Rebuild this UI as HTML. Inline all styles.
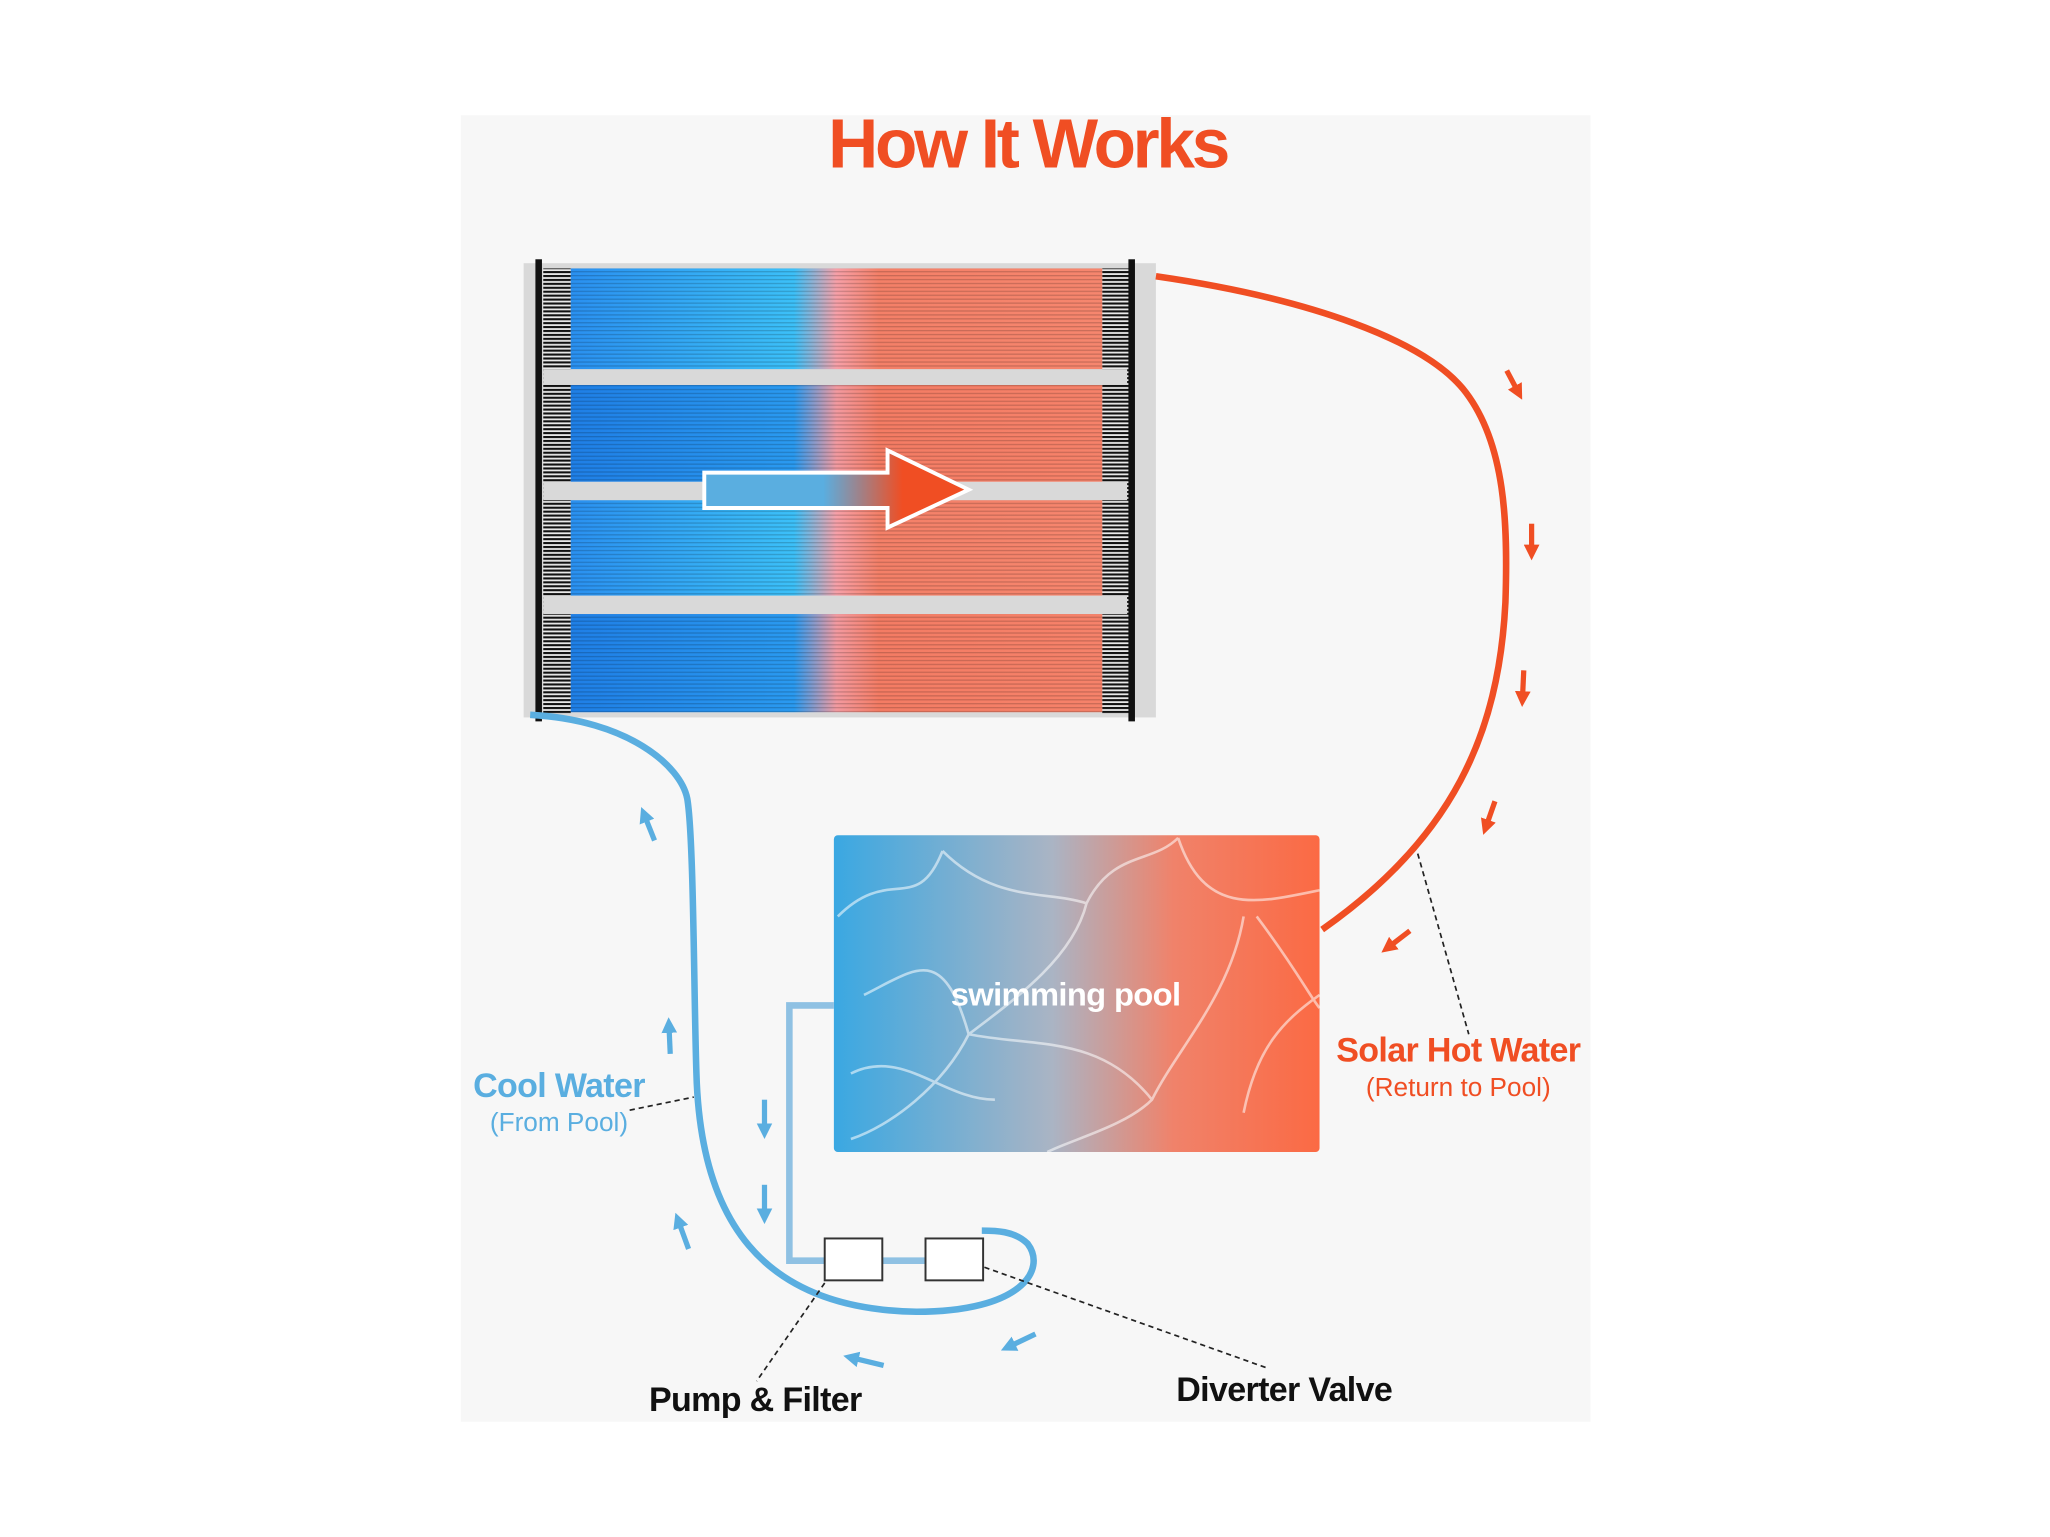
<!DOCTYPE html>
<html><head><meta charset="utf-8"><style>html,body{margin:0;padding:0;background:#fff}svg{display:block}</style></head>
<body>
<svg width="2050" height="1537" viewBox="0 0 1566 1174" xmlns="http://www.w3.org/2000/svg" font-family="Liberation Sans, sans-serif">
<defs>
<linearGradient id="band" x1="0" x2="1" y1="0" y2="0">
<stop offset="0" stop-color="#1f7fe6"/><stop offset="0.42" stop-color="#2a9af0"/><stop offset="0.5" stop-color="#f39aa0"/><stop offset="0.58" stop-color="#f47c64"/><stop offset="1" stop-color="#f6826a"/></linearGradient>
<linearGradient id="band2" x1="0" x2="1" y1="0" y2="0">
<stop offset="0" stop-color="#2a90f0"/><stop offset="0.42" stop-color="#3cc0f8"/><stop offset="0.5" stop-color="#f7a0a8"/><stop offset="0.58" stop-color="#f48068"/><stop offset="1" stop-color="#f6866e"/></linearGradient>
<pattern id="lines" width="4" height="3" patternUnits="userSpaceOnUse"><rect width="4" height="1" fill="#000" opacity="0.18"/></pattern>
<pattern id="comb" width="21" height="3" patternUnits="userSpaceOnUse"><rect width="21" height="3" fill="#e8e8e8"/><rect width="21" height="1.6" fill="#111"/></pattern>
<linearGradient id="arr" x1="0" x2="1"><stop offset="0" stop-color="#5aaee0"/><stop offset="0.45" stop-color="#5aaee0"/><stop offset="0.75" stop-color="#f04e23"/><stop offset="1" stop-color="#f04e23"/></linearGradient>
<linearGradient id="pool" x1="0" x2="1"><stop offset="0" stop-color="#3aa8e2"/><stop offset="0.45" stop-color="#aab4c4"/><stop offset="0.7" stop-color="#f0826a"/><stop offset="1" stop-color="#fb6a44"/></linearGradient>
<marker id="ra" viewBox="0 0 10 10" refX="5" refY="5" markerWidth="3" markerHeight="3" orient="auto"><path d="M0,0 L10,5 L0,10z" fill="#f04e23"/></marker>
<marker id="ba" viewBox="0 0 10 10" refX="5" refY="5" markerWidth="3" markerHeight="3" orient="auto"><path d="M0,0 L10,5 L0,10z" fill="#5aaee0"/></marker>
</defs>
<rect x="352" y="88" width="863" height="998" fill="#f7f7f7"/>
<text x="785" y="128" text-anchor="middle" font-size="53" font-weight="bold" fill="#f04e23" letter-spacing="-2.5">How It Works</text>
<!-- panel -->
<rect x="400" y="201" width="483" height="347" fill="#d9d9d9"/>
<rect x="415" y="205" width="21" height="340" fill="url(#comb)"/>
<rect x="842" y="205" width="23" height="340" fill="url(#comb)"/>
<g>
<rect x="436" y="205" width="406" height="77" fill="url(#band2)"/>
<rect x="436" y="294" width="406" height="74" fill="url(#band)"/>
<rect x="436" y="382" width="406" height="73" fill="url(#band2)"/>
<rect x="436" y="469" width="406" height="75" fill="url(#band)"/>
<rect x="436" y="205" width="406" height="77" fill="url(#lines)"/>
<rect x="436" y="294" width="406" height="74" fill="url(#lines)"/>
<rect x="436" y="382" width="406" height="73" fill="url(#lines)"/>
<rect x="436" y="469" width="406" height="75" fill="url(#lines)"/>
</g>
<rect x="415" y="282" width="446" height="12" fill="#d9d9d9"/>
<rect x="415" y="368" width="446" height="14" fill="#d9d9d9"/>
<rect x="415" y="455" width="446" height="14" fill="#d9d9d9"/>
<rect x="409" y="198" width="5" height="353" fill="#111"/>
<rect x="862" y="198" width="5" height="353" fill="#111"/>
<path d="M538,361 L678,361 L678,344 L740,374 L678,403 L678,388 L538,388Z" fill="url(#arr)" stroke="#fff" stroke-width="3"/>
<!-- red pipe -->
<path d="M883,211 C1000,228 1090,260 1120,300 C1150,340 1152,400 1150,460 C1145,560 1110,640 1010,710" fill="none" stroke="#f04e23" stroke-width="5"/>
<g stroke="#f04e23" stroke-width="4" fill="none">
<path d="M1151,283 L1160,300" marker-end="url(#ra)"/>
<path d="M1170,400 L1170,422" marker-end="url(#ra)"/>
<path d="M1164,512 L1163,534" marker-end="url(#ra)"/>
<path d="M1142,612 L1135,632" marker-end="url(#ra)"/>
<path d="M1077,711 L1060,724" marker-end="url(#ra)"/>
</g>
<!-- pool -->
<rect x="637" y="638" width="371" height="242" rx="3" fill="url(#pool)"/>
<g fill="none" stroke="#fff" stroke-opacity="0.55" stroke-width="2">
<path d="M640,700 C680,660 700,700 720,650 M720,650 C760,690 800,680 830,690 C850,650 880,660 900,640 M830,690 C820,730 780,760 740,790 C720,830 680,860 650,870 M900,640 C920,700 960,690 1008,680 M950,700 C940,760 900,800 880,840 C860,860 820,870 800,880 M740,790 C790,800 840,790 880,840 M660,760 C700,740 720,720 740,790 M1008,760 C980,780 960,800 950,850 M650,820 C690,800 720,840 760,840 M960,700 C990,740 1000,760 1008,770"/>
</g>
<text x="814" y="768" text-anchor="middle" font-size="25" font-weight="bold" fill="#fff" letter-spacing="-0.5">swimming pool</text>
<!-- pool to pump -->
<path d="M637,768 L603,768 L603,963 L750,963" fill="none" stroke="#8fc1e3" stroke-width="5"/>
<!-- blue pipe -->
<path d="M405,546 C480,550 520,585 525,610 C530,640 530,760 532,820 C535,930 580,1000 700,1002 C780,1002 800,970 785,950 C775,940 760,940 750,940" fill="none" stroke="#5aaee0" stroke-width="5"/>
<rect x="630" y="946" width="44" height="32" fill="#fff" stroke="#333" stroke-width="1.5"/>
<rect x="707" y="946" width="44" height="32" fill="#fff" stroke="#333" stroke-width="1.5"/>
<g stroke="#5aaee0" stroke-width="4" fill="none">
<path d="M500,642 L492,622" marker-end="url(#ba)"/>
<path d="M512,805 L511,783" marker-end="url(#ba)"/>
<path d="M526,954 L518,932" marker-end="url(#ba)"/>
<path d="M584,840 L584,864" marker-end="url(#ba)"/>
<path d="M584,905 L584,929" marker-end="url(#ba)"/>
<path d="M675,1043 L650,1037" marker-end="url(#ba)"/>
<path d="M791,1019 L770,1029" marker-end="url(#ba)"/>
</g>
<!-- leaders -->
<g stroke="#222" stroke-width="1.3" stroke-dasharray="4,3" fill="none">
<path d="M481,848 L530,838"/>
<path d="M1083,652 L1122,790"/>
<path d="M630,980 L578,1055"/>
<path d="M752,968 L968,1045"/>
</g>
<text x="427" y="838" text-anchor="middle" font-size="26" font-weight="bold" fill="#5aaee0" letter-spacing="-0.5">Cool Water</text>
<text x="427" y="864" text-anchor="middle" font-size="20" fill="#5aaee0">(From Pool)</text>
<text x="1114" y="811" text-anchor="middle" font-size="26" font-weight="bold" fill="#f04e23" letter-spacing="-0.5">Solar Hot Water</text>
<text x="1114" y="837" text-anchor="middle" font-size="20" fill="#f04e23">(Return to Pool)</text>
<text x="577" y="1078" text-anchor="middle" font-size="26" font-weight="bold" fill="#111" letter-spacing="-0.5">Pump &amp; Filter</text>
<text x="981" y="1070" text-anchor="middle" font-size="26" font-weight="bold" fill="#111" letter-spacing="-0.5">Diverter Valve</text>
</svg>
</body></html>
